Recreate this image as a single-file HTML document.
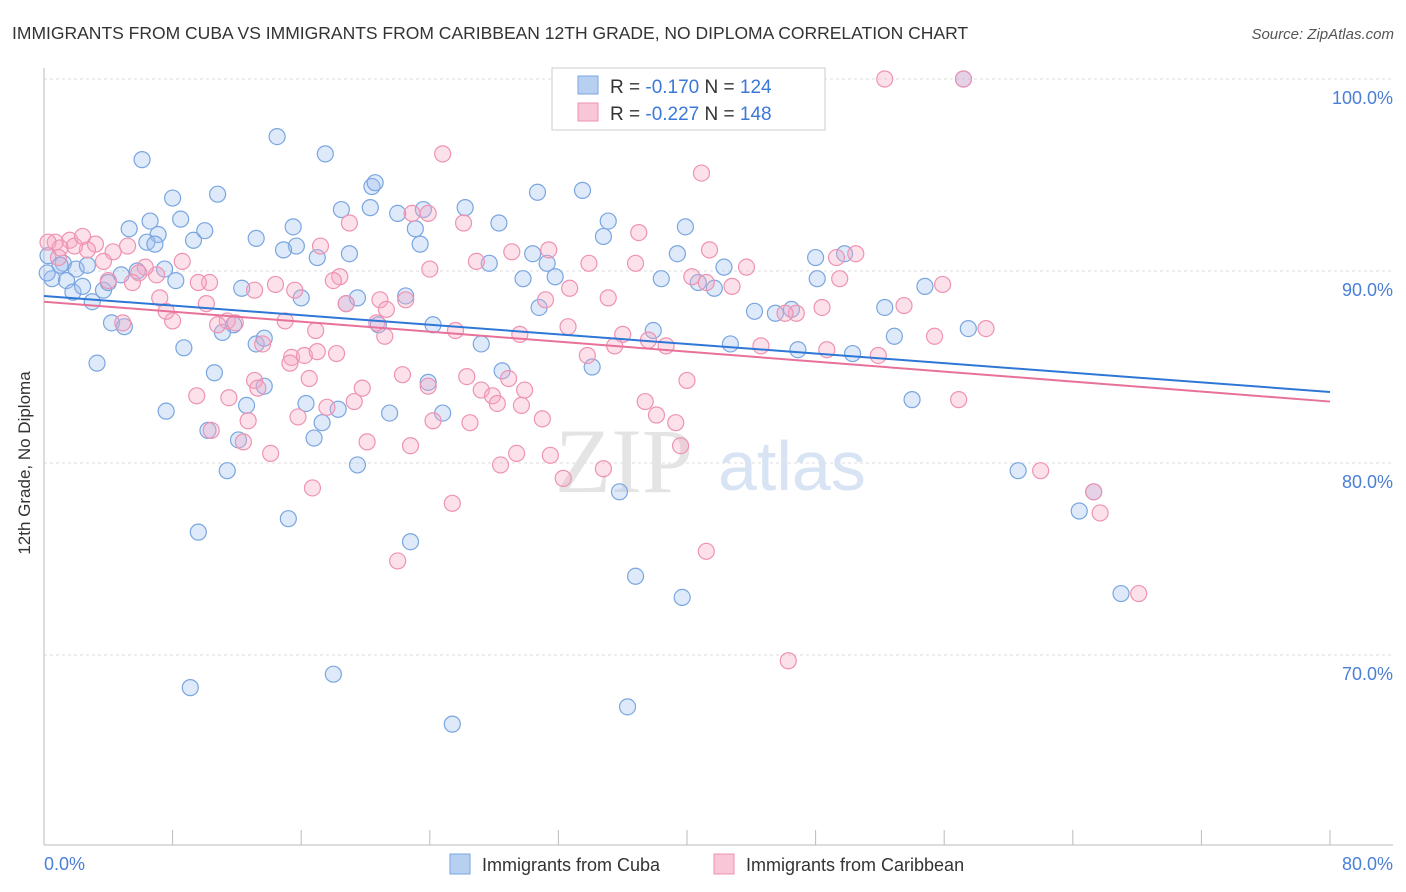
<!DOCTYPE html>
<html><head><meta charset="utf-8"><style>
body{margin:0;background:#fff;font-family:"Liberation Sans",sans-serif;}
svg{display:block}
</style></head><body>
<svg id="chart" width="1406" height="892" viewBox="0 0 1406 892">
<text x="12" y="39" font-size="17.5" fill="#333">IMMIGRANTS FROM CUBA VS IMMIGRANTS FROM CARIBBEAN 12TH GRADE, NO DIPLOMA CORRELATION CHART</text>
<text x="1394" y="39" font-size="15" fill="#555" font-style="italic" text-anchor="end">Source: ZipAtlas.com</text>
<g id="grid"></g>
<text x="555" y="492" font-size="92" fill="#e4e4e4" font-family="Liberation Serif,serif">ZIP</text>
<text x="718" y="490" font-size="70" fill="#d8e4f4">atlas</text>
<g id="axes"></g>
<g id="pts"></g>
<g id="trends"></g>
<text x="22" y="455" font-size="17" fill="#333" transform="rotate(-90 30 455)" text-anchor="middle">12th Grade, No Diploma</text>
<g>
<rect x="552" y="68" width="273" height="62" fill="#fff" stroke="#ccc"/>
<rect x="578" y="76" width="20" height="18" fill="#b7d0f2" stroke="#7aa6e0"/>
<rect x="578" y="103" width="20" height="18" fill="#f8c6d6" stroke="#ee93b2"/>
<text x="610" y="93" font-size="19" fill="#333">R = <tspan fill="#3b78d8">-0.170</tspan>   N = <tspan fill="#3b78d8">124</tspan></text>
<text x="610" y="120" font-size="19" fill="#333">R = <tspan fill="#3b78d8">-0.227</tspan>   N = <tspan fill="#3b78d8">148</tspan></text>
</g>
<g>
<rect x="450" y="854" width="20" height="20" fill="#b7d0f2" stroke="#7aa6e0"/>
<text x="482" y="871" font-size="18" fill="#333">Immigrants from Cuba</text>
<rect x="714" y="854" width="20" height="20" fill="#f8c6d6" stroke="#ee93b2"/>
<text x="746" y="871" font-size="18" fill="#333">Immigrants from Caribbean</text>
</g>
</svg>
<script>
const xMin=0,xMax=80,yMin=60.2,yMax=100;
const yTicks=[100,90,80,70];
const yTickLabels=["100.0%","90.0%","80.0%","70.0%"];
const xTickLabels=["0.0%","80.0%"];
const cubaX=[6.1,14.5,17.5,20.4,20.6,10.8,8.0,30.7,33.5,6.6,8.5,5.3,7.1,6.4,6.9,9.3,10.0,13.2,15.5,15.7,14.9,18.5,20.3,22.0,23.6,26.2,28.3,23.1,23.4,19.0,17.0,35.1,34.8,39.9,30.4,31.3,31.8,29.8,27.7,38.4,39.4,42.3,40.7,41.7,48.0,48.1,49.8,54.8,44.2,45.5,46.5,52.3,52.9,57.5,1.2,1.0,0.5,2.0,2.7,1.4,1.8,2.4,3.0,3.7,4.8,4.2,5.0,5.8,4.0,7.5,8.2,12.3,16.0,18.8,19.5,22.5,24.2,20.8,27.2,30.8,37.9,42.7,46.9,50.3,34.1,28.5,23.9,24.8,21.5,16.3,12.6,13.7,13.2,13.7,11.8,11.1,10.6,8.7,7.6,3.3,10.2,12.1,11.4,16.8,18.3,17.3,19.5,35.8,15.2,9.6,22.8,36.8,39.7,9.1,18.0,25.4,36.3,57.2,54.0,60.6,64.4,65.3,67.0,0.2,0.25];
const cubaY=[95.8,97.0,96.1,94.4,94.6,94.0,93.8,94.1,94.2,92.6,92.7,92.2,91.9,91.5,91.4,91.6,92.1,91.7,92.3,91.3,91.1,93.2,93.3,93.0,93.2,93.3,92.5,92.2,91.4,90.9,90.7,92.6,91.8,92.3,90.9,90.4,89.7,89.6,90.4,89.6,90.9,90.2,89.4,89.1,90.7,89.6,90.9,89.2,87.9,87.8,88.0,88.1,86.6,87.0,90.4,90.3,89.6,90.1,90.3,89.5,88.9,89.2,88.4,89.0,89.8,87.3,87.1,90.0,89.4,90.1,89.5,89.1,88.6,88.3,88.6,88.7,87.2,87.2,86.2,88.1,86.9,86.2,85.9,85.7,85.0,84.8,84.2,82.6,82.6,83.1,83.0,84.0,86.2,86.5,87.2,86.8,84.7,86.0,82.7,85.2,81.7,81.2,79.6,81.3,82.8,82.1,79.9,78.5,77.1,76.4,75.9,74.1,73.0,68.3,69.0,66.4,67.3,100,83.3,79.6,77.5,78.5,73.2,89.9,90.8];
const caribX=[52.3,57.2,24.8,40.9,23.9,22.9,26.1,19.0,17.2,29.1,31.4,37.0,41.4,26.9,33.9,36.8,24.0,18.4,18.0,14.4,15.6,13.1,10.3,9.6,8.6,7.0,6.3,5.9,4.3,5.2,3.2,2.7,1.6,1.9,0.7,0.25,1.0,0.9,2.4,3.7,4.0,5.5,7.2,8.0,10.1,11.4,10.8,11.9,13.6,15.0,16.9,18.8,20.9,20.7,21.3,22.5,21.2,25.6,29.6,31.2,32.7,35.1,32.6,33.8,36.0,35.5,37.6,38.7,40.3,41.2,42.8,43.7,44.6,49.3,50.5,49.5,48.4,46.8,46.1,48.7,51.9,53.5,55.4,55.9,58.6,15.4,16.2,17.0,18.2,15.3,13.1,16.5,13.3,9.5,11.5,12.7,12.4,14.1,15.8,17.6,19.3,19.8,22.3,23.9,22.8,24.2,26.3,27.2,28.9,29.9,27.9,26.5,28.2,31.0,29.7,31.5,29.4,28.4,32.3,34.8,37.4,38.1,39.3,39.6,40.0,20.1,16.7,25.4,22.0,41.2,46.3,56.9,62.0,65.3,65.7,68.1,7.6,4.9,10.4];
const caribY=[100,100,96.1,95.1,93.0,93.0,92.5,92.5,91.3,91.0,91.1,92.0,91.1,90.5,90.4,90.4,90.1,89.7,89.5,89.3,89.0,89.0,89.4,89.4,90.5,89.8,90.2,89.9,91.0,91.3,91.4,91.1,91.6,91.3,91.5,91.5,91.2,90.7,91.8,90.5,89.5,89.4,88.6,87.4,88.3,87.4,87.2,87.3,86.2,87.4,86.9,88.3,88.5,87.3,88.0,88.5,86.6,86.9,86.7,88.5,89.1,88.6,87.1,85.6,86.7,86.1,86.4,86.1,89.7,89.4,89.2,90.2,86.1,90.7,90.9,89.6,88.1,87.8,87.8,85.9,85.6,88.2,86.6,89.3,87.0,85.5,85.6,85.8,85.7,85.2,84.3,84.4,83.9,83.5,83.4,82.2,81.1,80.5,82.4,82.9,83.2,83.9,84.6,84.0,80.9,82.2,84.5,83.8,84.4,83.8,83.5,82.1,83.1,82.3,83.0,80.4,80.5,79.9,79.2,79.7,83.2,82.5,82.1,80.9,84.3,81.1,78.7,77.9,74.9,75.4,69.7,83.3,79.6,78.5,77.4,73.2,87.9,87.3,81.7];
const cubaTrend=[88.7,83.7];
const caribTrend=[88.4,83.2];
const X0=44,X1=1330,YT=79,YB=655;
function sx(v){return X0+(v-xMin)/(80-0)*(X1-X0);}
function sy(v){return YT+(100-v)/(100-70)*(YB-YT);}
const NS="http://www.w3.org/2000/svg";
function mk(tag,attrs,parent){const e=document.createElementNS(NS,tag);for(const k in attrs)e.setAttribute(k,attrs[k]);document.getElementById(parent).appendChild(e);return e;}
yTicks.forEach((t,i)=>{
 const l=mk('line',{x1:44,x2:1393,y1:sy(t),y2:sy(t),stroke:'#dcdcdc','stroke-dasharray':'3,3'},'grid');
 
 
 const tx=mk('text',{x:1393,y:sy(t)+25,'font-size':18,fill:'#4a7fd6','text-anchor':'end'},'axes');
 tx.textContent=yTickLabels[i];
 
 
});
mk('line',{x1:44,x2:44,y1:68,y2:845,stroke:'#bbb'},'axes');
mk('line',{x1:44,x2:1393,y1:845,y2:845,stroke:'#bbb'},'axes');
for(let i=0;i<=10;i++){
 const t=mk('line',{x1:sx(i*8),x2:sx(i*8),y1:830,y2:845,stroke:'#bbb'},'axes');
 
 
}
const xl0=mk('text',{x:44,y:870,'font-size':18,fill:'#4a7fd6'},'axes');xl0.textContent=xTickLabels[0];


const xl1=mk('text',{x:1393,y:870,'font-size':18,fill:'#4a7fd6','text-anchor':'end'},'axes');xl1.textContent=xTickLabels[1];


function pts(xs,ys,fill,stroke,name){
 xs.forEach((x,i)=>{
  const c=mk('circle',{cx:sx(x),cy:sy(ys[i]),r:8,fill:fill,stroke:stroke,'stroke-width':1.2},'pts');
  
  
 });
}
pts(cubaX,cubaY,'rgba(160,192,238,0.35)','#7aa6e0','point-cuba');
pts(caribX,caribY,'rgba(245,170,196,0.35)','#ee93b2','point-caribbean');
const t1=mk('line',{x1:sx(0),y1:sy(cubaTrend[0]),x2:sx(80),y2:sy(cubaTrend[1]),stroke:'#2f77d6','stroke-width':2},'trends');


const t2=mk('line',{x1:sx(0),y1:sy(caribTrend[0]),x2:sx(80),y2:sy(caribTrend[1]),stroke:'#e8719a','stroke-width':2},'trends');


</script>
</body></html>
